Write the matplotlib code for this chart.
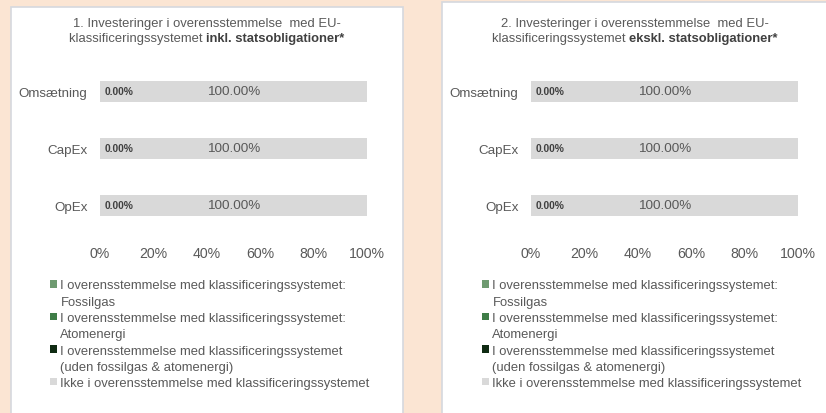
import matplotlib
matplotlib.use("Agg")
import matplotlib.pyplot as plt
from matplotlib.patches import Rectangle, Patch
from matplotlib.ticker import FuncFormatter

plt.rcParams['font.family'] = ['Liberation Sans', 'DejaVu Sans']

# ---------------- data ----------------
categories = ["Omsætning", "CapEx", "OpEx"]
series_names = [
    "I overensstemmelse med klassificeringssystemet:\nFossilgas",
    "I overensstemmelse med klassificeringssystemet:\nAtomenergi",
    "I overensstemmelse med klassificeringssystemet\n(uden fossilgas & atomenergi)",
    "Ikke i overensstemmelse med klassificeringssystemet",
]
series_colors = ["#6E9A70", "#3F7D47", "#0F2B12", "#D9D9D9"]

# panel 1: incl. government bonds
p1_fossil = [0.0, 0.0, 0.0]
p1_atom = [0.0, 0.0, 0.0]
p1_aligned = [0.0, 0.0, 0.0]
p1_not_aligned = [100.0, 100.0, 100.0]
# panel 2: excl. government bonds
p2_fossil = [0.0, 0.0, 0.0]
p2_atom = [0.0, 0.0, 0.0]
p2_aligned = [0.0, 0.0, 0.0]
p2_not_aligned = [100.0, 100.0, 100.0]

title1_regular = "klassificeringssystemet "
title1_line1 = "1. Investeringer i overensstemmelse  med EU-"
title1_bold = "inkl. statsobligationer*"
title2_line1 = "2. Investeringer i overensstemmelse  med EU-"
title2_bold = "ekskl. statsobligationer*"

xticks = [0, 20, 40, 60, 80, 100]

# ---------------- figure ----------------
W, H = 826, 414
fig = plt.figure(figsize=(W / 100, H / 100), dpi=100, facecolor="#FBE5D3")


def fx(px):
    return px / W


def fy(py):
    return 1 - py / H


# white panels
for (x0, y0, x1) in [(11, 8, 403), (442, 3, 840)]:
    fig.add_artist(Rectangle((fx(x0), fy(430)), fx(x1) - fx(x0), fy(y0) - fy(430),
                             transform=fig.transFigure, facecolor="white",
                             edgecolor="#D5D8DE", linewidth=1.2, zorder=0))

GRAY = "#595959"
DARK = "#404040"


def draw_panel(bar_x0, fossil, atom, aligned, not_aligned, line1, bold, center_x, leg_x):
    ax = fig.add_axes([fx(bar_x0), fy(234.5), fx(267), (234.5 - 64) / H])
    ax.set_facecolor("none")
    ypos = list(range(len(categories)))
    left = [0.0] * len(categories)
    bars = []
    for vals, col in zip([fossil, atom, aligned, not_aligned], series_colors):
        b = ax.barh(ypos, vals, left=left, height=0.37, color=col, edgecolor="none")
        bars.append(b)
        left = [l + v for l, v in zip(left, vals)]
    ax.set_xlim(0, 100)
    ax.set_ylim(2.5, -0.5)
    ax.set_yticks(ypos)
    ax.set_yticklabels(categories, fontsize=9.6, color=GRAY)
    ax.set_xticks(xticks)
    ax.xaxis.set_major_formatter(FuncFormatter(lambda v, p: f"{v:.0f}%"))
    ax.tick_params(axis="x", length=0, pad=9, labelsize=10.2, labelcolor=GRAY)
    ax.tick_params(axis="y", length=0, pad=9)
    for s in ax.spines.values():
        s.set_visible(False)
    # data labels
    for i in ypos:
        ax.annotate(f"{aligned[i]:.2f}%", xy=(fossil[i] + atom[i], i), xytext=(3, 0),
                    textcoords="offset points", ha="left", va="center",
                    fontsize=7.4, fontweight="bold", color=DARK)
        start = fossil[i] + atom[i] + aligned[i]
        ax.annotate(f"{not_aligned[i]:.2f}%", xy=(start + not_aligned[i] / 2, i),
                    ha="center", va="center", fontsize=9.7, color=GRAY)
    # title
    fig.text(fx(center_x), fy(27), line1, ha="center", va="baseline",
             fontsize=9.4, color=GRAY)
    r = fig.canvas.get_renderer()
    t1 = fig.text(0, fy(42), title1_regular, ha="left", va="baseline",
                  fontsize=9.4, color=GRAY)
    t2 = fig.text(0, fy(42), bold, ha="left", va="baseline", fontsize=9.4,
                  fontweight="bold", color=DARK)
    w1 = t1.get_window_extent(r).width
    w2 = t2.get_window_extent(r).width
    start_px = center_x - (w1 + w2) / 2
    t1.set_x(fx(start_px))
    t2.set_x(fx(start_px + w1))
    # legend (one row per text line)
    handles, labels = [], []
    blank = Patch(facecolor="none", edgecolor="none")
    for b, name, col in zip(bars, series_names, series_colors):
        lines = name.split("\n")
        handles.append(Patch(facecolor=col, edgecolor="none"))
        labels.append(lines[0])
        for extra in lines[1:]:
            handles.append(blank)
            labels.append(extra)
    leg = ax.legend(handles, labels, loc="upper left",
                    bbox_to_anchor=(fx(leg_x), fy(280.5)), bbox_transform=fig.transFigure,
                    frameon=False, fontsize=9.4, handlelength=0.5, handleheight=0.5,
                    handletextpad=0.3, labelspacing=0.33, borderpad=0, borderaxespad=0)
    for t in leg.get_texts():
        t.set_color(GRAY)
    return ax


draw_panel(100, p1_fossil, p1_atom, p1_aligned, p1_not_aligned, title1_line1, title1_bold, 207, 50)
draw_panel(531, p2_fossil, p2_atom, p2_aligned, p2_not_aligned, title2_line1, title2_bold, 635, 482)

fig.savefig("out.png", dpi=100, facecolor=fig.get_facecolor())
